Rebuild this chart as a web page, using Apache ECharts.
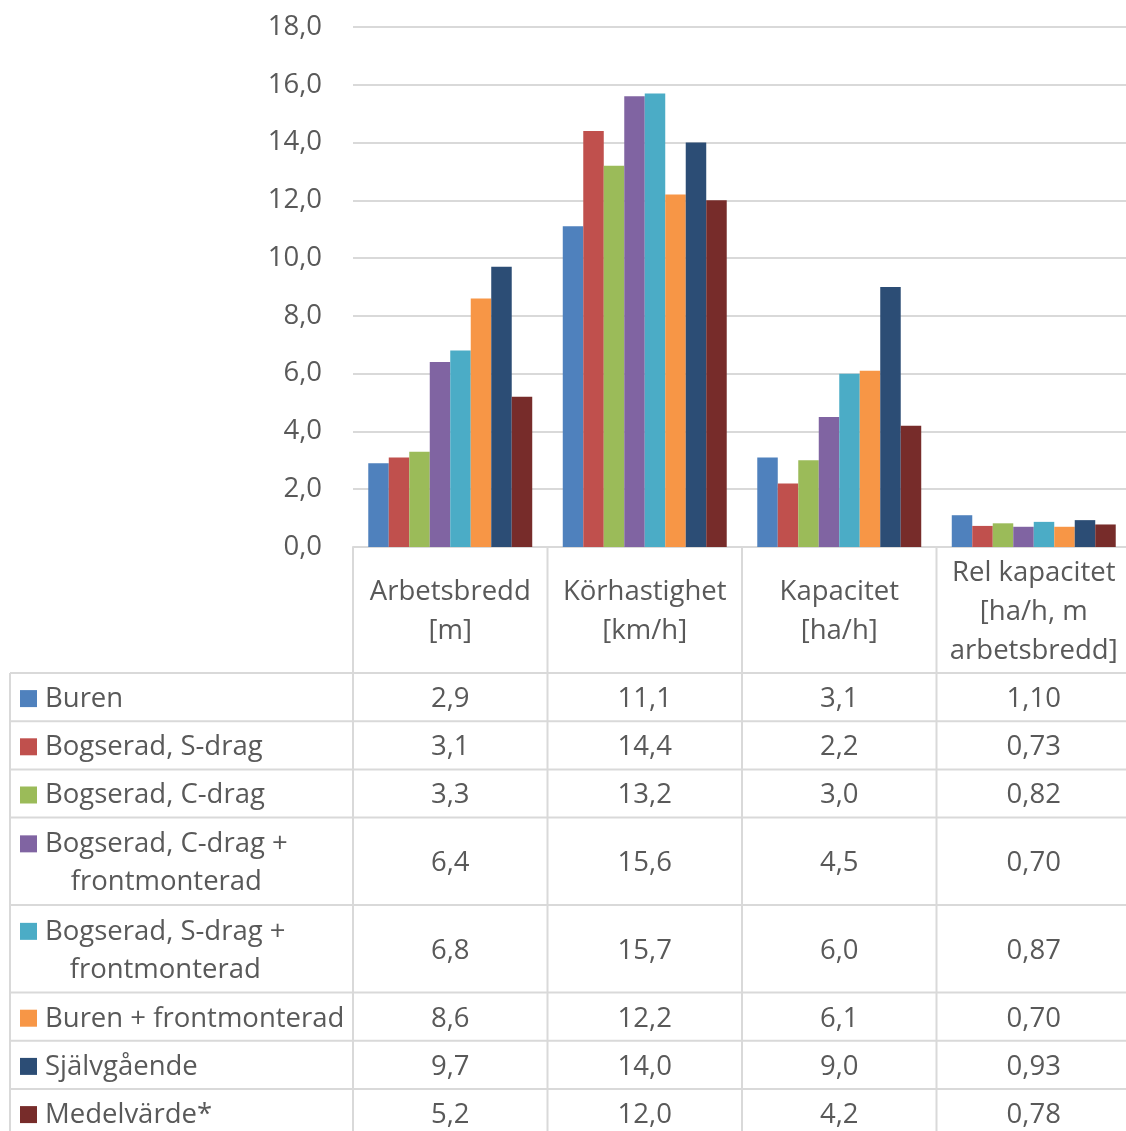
<!DOCTYPE html>
<html><head><meta charset="utf-8">
<script src="https://cdn.jsdelivr.net/npm/echarts@6/dist/echarts.min.js"></script>
<style>html,body{margin:0;padding:0;background:#fff}#c{width:1126px;height:1131px}</style>
</head><body><div id="c"></div>
<script>
// ---- data ----
const categories = ['Arbetsbredd\n[m]', 'Körhastighet\n[km/h]', 'Kapacitet\n[ha/h]', 'Rel kapacitet\n[ha/h, m\narbetsbredd]'];
const seriesNames = ['Buren', 'Bogserad, S-drag', 'Bogserad, C-drag', 'Bogserad, C-drag +\nfrontmonterad', 'Bogserad, S-drag +\nfrontmonterad', 'Buren + frontmonterad', 'Självgående', 'Medelvärde*'];
const seriesColors = ['#4F81BD', '#C0504D', '#9BBB59', '#8064A2', '#4BACC6', '#F79646', '#2C4D75', '#772C2A'];
const buren        = [2.9, 11.1, 3.1, 1.10];
const bogS         = [3.1, 14.4, 2.2, 0.73];
const bogC         = [3.3, 13.2, 3.0, 0.82];
const bogCFront    = [6.4, 15.6, 4.5, 0.70];
const bogSFront    = [6.8, 15.7, 6.0, 0.87];
const burenFront   = [8.6, 12.2, 6.1, 0.70];
const sjalvgaende  = [9.7, 14.0, 9.0, 0.93];
const medelvarde   = [5.2, 12.0, 4.2, 0.78];
const seriesValues = [buren, bogS, bogC, bogCFront, bogSFront, burenFront, sjalvgaende, medelvarde];
const decimals = [1, 1, 1, 2];
const yMin = 0, yMax = 18, yInterval = 2;

// ---- style ----
const FONT = 'Open Sans';
const FS = 27.5;
const TXT = '#595959';
const LINE = '#D9D9D9';
const DY = 2;
const fmt = (v, d) => v.toFixed(d).replace('.', ',');

const chart = echarts.init(document.getElementById('c'), null, {renderer: 'canvas'});
const gridLeft = 353, gridTop = 27, gridW = 778, gridH = 520;

chart.setOption({
  animation: false,
  backgroundColor: '#fff',
  grid: {left: gridLeft, top: gridTop, width: gridW, height: gridH, containLabel: false, outerBoundsMode: 'none'},
  xAxis: {
    type: 'category', data: categories,
    axisLine: {show: true, lineStyle: {color: LINE, width: 2}},
    axisTick: {show: false},
    axisLabel: {color: TXT, fontFamily: FONT, fontSize: FS, lineHeight: 39, margin: 63 + DY, verticalAlign: 'middle', align: 'center', interval: 0}
  },
  yAxis: {
    type: 'value', min: yMin, max: yMax, interval: yInterval,
    axisLine: {show: false}, axisTick: {show: false},
    splitLine: {lineStyle: {color: LINE, width: 2}},
    axisLabel: {color: TXT, fontFamily: FONT, fontSize: FS, margin: 31, padding: [DY * 2, 0, 0, 0], formatter: v => fmt(v, 1)}
  },
  series: seriesNames.map((n, i) => ({
    name: n, type: 'bar', data: seriesValues[i],
    barGap: '0%', barCategoryGap: '15.7%',
    itemStyle: {color: seriesColors[i]}
  }))
});

// ---- data table ----
const catX = categories.map((c, i) => chart.convertToPixel({xAxisIndex: 0}, i));
const colW = catX[1] - catX[0];
const bounds = catX.map(x => x - colW / 2);
bounds.push(catX[catX.length - 1] + colW / 2);
const axisY = chart.convertToPixel({yAxisIndex: 0}, 0);
const tableLeft = 10, rowsTop = 673, bottom = 1131;
const rowH = seriesNames.map(n => n.includes('\n') ? 87.5 : 48.2);

const g = [];
const ln = (x1, y1, x2, y2) => g.push({type: 'line', silent: true, shape: {x1, y1, x2, y2}, style: {stroke: LINE, lineWidth: 2}});
const measure = (() => {const cv = document.createElement('canvas').getContext('2d'); cv.font = FS + 'px "' + FONT + '"'; return t => cv.measureText(t).width;})();

// vertical lines
ln(tableLeft, rowsTop, tableLeft, bottom);
bounds.forEach(x => ln(x, axisY, x, bottom));
// rows
let y = rowsTop;
ln(tableLeft, y, bounds[bounds.length - 1], y);
seriesNames.forEach((n, i) => {
  const h = rowH[i];
  const cy = y + h / 2;
  const lines = n.split('\n');
  const firstY = cy - (lines.length - 1) * 38 / 2;
  g.push({type: 'rect', silent: true, shape: {x: 20, y: firstY - 7, width: 17, height: 17}, style: {fill: seriesColors[i]}});
  if (lines.length === 1) {
    g.push({type: 'text', silent: true, style: {x: 45, y: cy + DY, text: n, fill: TXT, fontFamily: FONT, fontSize: FS, align: 'left', verticalAlign: 'middle'}});
  } else {
    const w = measure(lines[0]);
    g.push({type: 'text', silent: true, style: {x: 45 + w / 2, y: cy + DY, text: n, fill: TXT, fontFamily: FONT, fontSize: FS, lineHeight: 38, align: 'center', verticalAlign: 'middle'}});
  }
  seriesValues[i].forEach((v, j) => {
    g.push({type: 'text', silent: true, style: {x: catX[j], y: cy + DY, text: fmt(v, decimals[j]), fill: TXT, fontFamily: FONT, fontSize: FS, align: 'center', verticalAlign: 'middle'}});
  });
  y += h;
  ln(tableLeft, y, bounds[bounds.length - 1], y);
});
chart.setOption({graphic: {elements: g}});
</script>
</body></html>
